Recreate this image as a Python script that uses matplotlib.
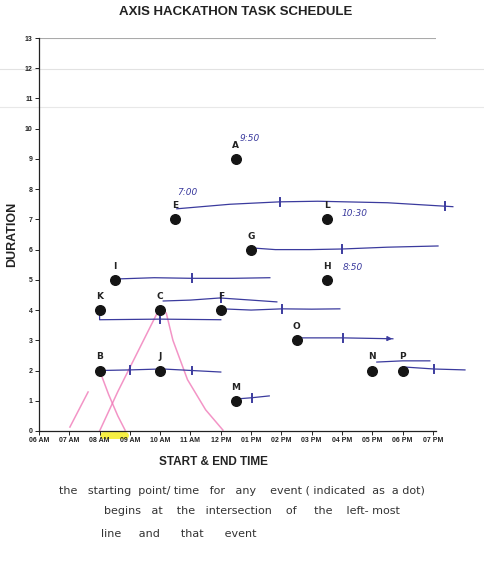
import matplotlib.pyplot as plt

# Zeit in Stunden ab 06 AM, y = Dauer
tick_labels = ["06 AM", "07 AM", "08 AM", "09 AM", "10 AM", "11 AM", "12 PM",
               "01 PM", "02 PM", "03 PM", "04 PM", "05 PM", "06 PM", "07 PM"]

event_names = ["A", "E", "L", "G", "I", "H", "K", "C", "F", "O", "B", "J", "N", "P", "M"]
event_start = [6.5, 4.5, 9.5, 7.0, 2.5, 9.5, 2.0, 4.0, 6.0, 8.5, 2.0, 4.0, 11.0, 12.0, 6.5]
event_dur = [9, 7, 7, 6, 5, 5, 4, 4, 4, 3, 2, 2, 2, 2, 1]

# handgezeichnete Linien (x-Punkte, y-Punkte, Markierungen)
pen_x = [
    [4.55, 6.3, 7.95, 9.2, 11.5, 13.66],
    [6.96, 7.8, 8.94, 10.0, 11.5, 13.17],
    [2.6, 3.8, 5.05, 6.4, 7.62],
    [4.1, 5.0, 5.97, 7.0, 7.85],
    [6.05, 7.0, 8.02, 9.0, 9.93],
    [2.0, 2.0, 4.0, 6.0],
    [8.68, 10.03, 11.68],
    [11.15, 12.0, 12.9],
    [12.0, 13.04, 14.06],
    [2.0, 3.0, 4.0],
    [4.1, 5.05, 6.0],
    [6.53, 7.03, 7.6],
]
pen_y = [
    [7.35, 7.5, 7.58, 7.6, 7.55, 7.42],
    [6.06, 6.0, 6.0, 6.02, 6.08, 6.12],
    [5.03, 5.07, 5.05, 5.05, 5.07],
    [4.3, 4.33, 4.4, 4.33, 4.27],
    [4.04, 4.0, 4.04, 4.03, 4.04],
    [4.0, 3.68, 3.7, 3.68],
    [3.08, 3.08, 3.05],
    [2.28, 2.32, 2.32],
    [2.12, 2.05, 2.02],
    [2.0, 2.02, 2.05],
    [2.05, 2.0, 1.95],
    [1.06, 1.1, 1.16],
]
pen_ticks = [[(7.95, 7.58), (13.4, 7.45)], [(10.0, 6.02)], [(5.05, 5.05)], [(6.0, 4.4)],
             [(8.02, 4.04)], [(4.0, 3.7)], [(10.03, 3.08)], [], [(13.04, 2.05)],
             [(3.0, 2.02)], [(5.05, 2.0)], [(7.03, 1.1)]]

pink_x = [[2.0, 2.3, 2.6, 2.84], [1.02, 1.62], [2.0, 2.6, 3.3, 3.9], [4.2, 4.42, 4.9, 5.5, 6.07]]
pink_y = [[2.0, 1.2, 0.5, 0.03], [0.13, 1.29], [0.0, 1.3, 2.7, 3.9], [3.9, 3.0, 1.7, 0.7, 0.03]]

notes = ["9:50", "7:00", "10:30", "8:50"]
note_x = [6.97, 4.88, 10.4, 10.35]
note_y = [9.66, 7.9, 7.2, 5.4]

caption = ["the   starting  point/ time   for   any    event ( indicated  as  a dot)",
           "begins   at    the   intersection    of     the    left- most",
           "line     and      that      event"]

pen = "#3b3b9e"
pink = "#f07ab8"

fig = plt.figure(figsize=(4.84, 5.63), dpi=100)
ax = fig.add_axes([0.0806, 0.2345, 0.82, 0.698])
ax.patch.set_alpha(0)

# Scan-Linien (hinter dem Diagramm)
fig.add_artist(plt.Line2D([0, 1], [1 - 69 / 563] * 2, color="#e2e2e2", lw=0.8, zorder=-1))
fig.add_artist(plt.Line2D([0, 1], [1 - 107 / 563] * 2, color="#e8e8e8", lw=0.8, zorder=-1))

for xs, ys in zip(pink_x, pink_y):
    ax.plot(xs, ys, color=pink, lw=1.1, alpha=0.8, clip_on=False, zorder=1)
ax.plot([2.1, 2.85], [-0.12, -0.12], color="#f5ee30", lw=5, alpha=0.9,
        solid_capstyle="round", clip_on=False, zorder=0)

for xs, ys, tk in zip(pen_x, pen_y, pen_ticks):
    ax.plot(xs, ys, color=pen, lw=0.9, clip_on=False, zorder=2)
    for tx, ty in tk:
        ax.plot([tx, tx], [ty - 0.13, ty + 0.13], color=pen, lw=1.4, clip_on=False, zorder=2)
ax.annotate("", xy=(11.75, 3.05), xytext=(11.4, 3.06),
            arrowprops=dict(arrowstyle="-|>", color=pen, lw=0.9, mutation_scale=7))

ax.scatter(event_start, event_dur, s=48, color="#151515", zorder=3)
for n, x, y in zip(event_names, event_start, event_dur):
    ax.text(x, y + 0.3, n, ha="center", va="bottom", fontsize=6.5,
            fontweight="bold", color="#222222", zorder=4)

for t, x, y in zip(notes, note_x, note_y):
    ax.text(x, y, t, fontsize=6.5, color=pen, style="italic", ha="center", va="center")

ax.set_xlim(0, 13.1)
ax.set_ylim(0, 13)
ax.set_xticks(range(len(tick_labels)))
ax.set_xticklabels(tick_labels, fontsize=5, fontweight="bold", family="Liberation Sans")
ax.set_yticks(range(14))
ax.set_yticklabels([str(v) for v in range(14)], fontsize=5, fontweight="bold",
                   family="Liberation Sans")
ax.tick_params(length=3, width=0.7, pad=1.5, colors="#222222")
for s in ["top", "right"]:
    ax.spines[s].set_visible(False)
for s in ["left", "bottom"]:
    ax.spines[s].set_linewidth(0.9)
    ax.spines[s].set_color("#222222")
ax.axhline(13, color="#aaaaaa", lw=0.8)

fig.text(0.486, 0.978, "AXIS HACKATHON TASK SCHEDULE", ha="center", va="center",
         fontsize=9.5, fontweight="bold", family="Liberation Sans", color="#222222")
fig.text(0.025, 0.583, "DURATION", rotation=90, ha="center", va="center",
         fontsize=9, fontweight="bold", family="Liberation Sans", color="#222222")
fig.text(0.442, 0.179, "START & END TIME", ha="center", va="center",
         fontsize=8.5, fontweight="bold", family="Liberation Sans", color="#222222")

cap_x = [0.50, 0.52, 0.37]
cap_y = [0.128, 0.093, 0.052]
for t, x, y in zip(caption, cap_x, cap_y):
    fig.text(x, y, t, ha="center", va="center", fontsize=8, color="#333333",
             family="DejaVu Sans")

fig.savefig("out.png", dpi=100, facecolor="white")
